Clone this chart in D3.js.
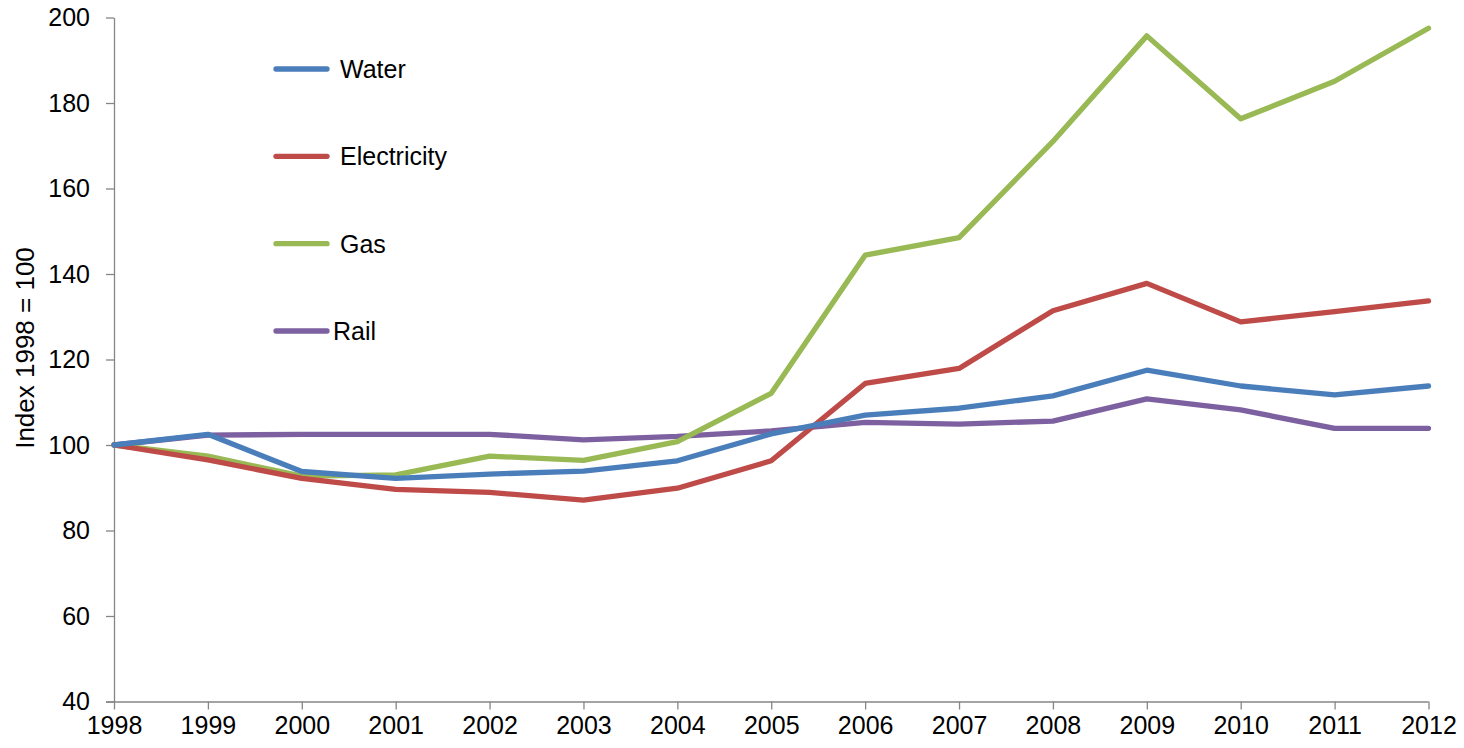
<!DOCTYPE html>
<html>
<head>
<meta charset="utf-8">
<script src="https://cdn.jsdelivr.net/npm/d3@7"></script>
<style>
  html, body { margin: 0; padding: 0; background: #fff; }
  svg { display: block; font-family: "Liberation Sans", Arial, sans-serif; }
</style>
</head>
<body>
<div id="chart"></div>
<script>
// Utility price indices, 1998 = 100
var years = [1998, 1999, 2000, 2001, 2002, 2003, 2004, 2005, 2006, 2007, 2008, 2009, 2010, 2011, 2012];
var water = [100, 102.5, 93.8, 92.2, 93.2, 93.9, 96.3, 102.6, 107.0, 108.6, 111.5, 117.5, 113.8, 111.7, 113.8];
var electricity = [100, 96.5, 92.2, 89.6, 88.9, 87.1, 89.9, 96.3, 114.4, 117.9, 131.4, 137.8, 128.8, 131.2, 133.7];
var gas = [100, 97.4, 92.7, 93.0, 97.4, 96.4, 100.8, 112.1, 144.4, 148.5, 171.0, 195.7, 176.3, 185.1, 197.5];
var rail = [100, 102.3, 102.5, 102.5, 102.5, 101.2, 102.0, 103.3, 105.3, 104.9, 105.6, 110.8, 108.2, 103.9, 103.9];
var seriesNames = ["Water", "Electricity", "Gas", "Rail"];
var yTicks = [40, 60, 80, 100, 120, 140, 160, 180, 200];

(function () {
  "use strict";

  var width = 1464, height = 748;
  var colors = { Water: "#4a7ebb", Electricity: "#be4b48", Gas: "#98b954", Rail: "#7d60a0" };
  var values = { Water: water, Electricity: electricity, Gas: gas, Rail: rail };

  var svg = d3.select("#chart").append("svg")
    .attr("width", width)
    .attr("height", height);

  var x = d3.scaleLinear().domain([1998, 2012]).range([114, 1428.5]);
  var y = d3.scaleLinear().domain([40, 200]).range([701.5, 17.5]);

  // y axis
  var yAxis = svg.append("g")
    .attr("transform", "translate(" + x.range()[0] + ",0)")
    .call(d3.axisLeft(y).tickValues(yTicks).tickSize(8).tickPadding(16).tickSizeOuter(0));

  // x axis
  var xAxis = svg.append("g")
    .attr("transform", "translate(0," + y.range()[0] + ")")
    .call(d3.axisBottom(x).tickValues(years).tickFormat(d3.format("d")).tickSize(8).tickPadding(7).tickSizeOuter(0));

  [yAxis, xAxis].forEach(function (a) {
    a.select(".domain").attr("stroke", "#868686").attr("stroke-width", 1.3);
    a.selectAll(".tick line").attr("stroke", "#868686").attr("stroke-width", 1.3);
    a.selectAll(".tick text")
      .attr("fill", "#000")
      .style("font-size", "25px")
      .style("font-family", "'Liberation Sans', Arial, sans-serif");
  });
  // extend x axis a bit left to meet the y tick
  xAxis.select(".domain").attr("d", "M106,0.5H" + x.range()[1]);

  svg.append("text")
    .attr("transform", "translate(34,348) rotate(-90)")
    .attr("text-anchor", "middle")
    .style("font-size", "26px")
    .text("Index 1998 = 100");

  var line = d3.line()
    .x(function (d, i) { return x(years[i]); })
    .y(function (d) { return y(d); });

  svg.append("g").selectAll("path")
    .data(seriesNames.slice().reverse())
    .join("path")
    .attr("d", function (name) { return line(values[name]); })
    .attr("fill", "none")
    .attr("stroke", function (name) { return colors[name]; })
    .attr("stroke-width", 5.3)
    .attr("stroke-linejoin", "round")
    .attr("stroke-linecap", "round");

  // legend
  var legendY = d3.scalePoint().domain(seriesNames).range([69, 331]);
  var legend = svg.append("g").selectAll("g")
    .data(seriesNames)
    .join("g")
    .attr("transform", function (d) { return "translate(0," + legendY(d) + ")"; });

  legend.append("line")
    .attr("x1", 276).attr("x2", 327)
    .attr("stroke", function (d) { return colors[d]; })
    .attr("stroke-width", 5.3)
    .attr("stroke-linecap", "round");

  legend.append("text")
    .attr("x", function (d) { return d === "Rail" ? 333 : 340; })
    .attr("dy", "0.36em")
    .style("font-size", "25px")
    .text(function (d) { return d; });
})();
</script>
</body>
</html>
